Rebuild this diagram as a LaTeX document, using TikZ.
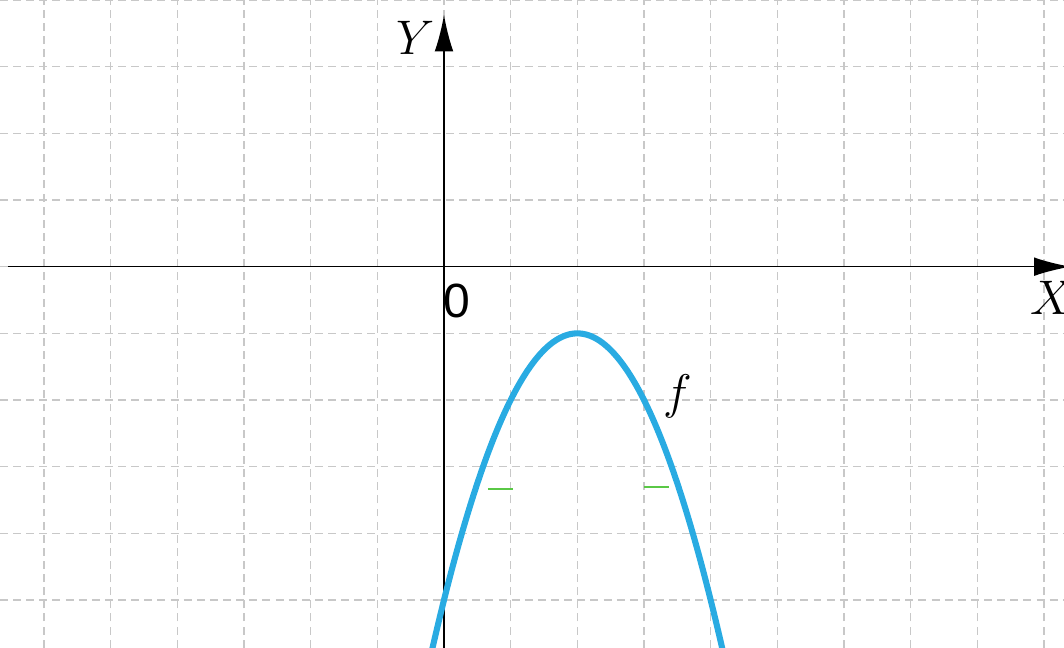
\documentclass[tikz,border=0pt]{standalone}
\usepackage{amsmath}
\usepackage{fontspec}
\setsansfont{Liberation Sans}
\usepackage{xcolor}
\usepackage{tikz}
\usetikzlibrary{calc, positioning, arrows.meta}
\definecolor{curveblue}{RGB}{41,171,226}
\definecolor{gridgray}{RGB}{200,200,200}
\definecolor{markgreen}{RGB}{90,200,70}
\tikzset{
    parabola/.style={
        font=\fontsize{20.5}{24}\selectfont,
        grid_line/.style={gridgray, line width=0.5pt, dash pattern=on 3.4pt off 2.2pt},
        axis_line/.style={black, line width=0.65pt, -{Latex[length=5.5mm, width=2.8mm]}},
        graph_curve/.style={curveblue, line width=2.6pt},
        green_mark/.style={markgreen, line width=0.9pt}
    }
}

\begin{document}
\begin{tikzpicture}[parabola]
        \useasboundingbox (-6.66, -5.715) rectangle (9.3, 4.0);
        \clip (-6.66, -5.715) rectangle (9.3, 4.0);

        % Grid
        \draw[grid_line] (-6.66, -5.715) grid (9.3, 4.0);

        % Axes
        \draw[axis_line] (-6.54, 0) -- (9.4, 0);
        \draw[axis_line] (0, -5.715) -- (0, 3.78);

        \node (xlabel) at (9.12, -0.47) {$X$};
        \node (ylabel) at (-0.43, 3.43) {$Y$};
        \node[font=\fontsize{20.5}{24}\sffamily] (origin) at (0.2, -0.52) {0};

        % Graph of f
        \draw[graph_curve] plot[domain=-0.25:4.25, samples=80, smooth] (\x, {-(\x-2)^2 - 1});
        \node (flabel) at (3.5, -1.95) {$f$};

        % Marks
        \draw[green_mark] (0.66, -3.33) -- (1.03, -3.33);
        \draw[green_mark] (3.0, -3.30) -- (3.37, -3.30);

    \end{tikzpicture}
\end{document}
